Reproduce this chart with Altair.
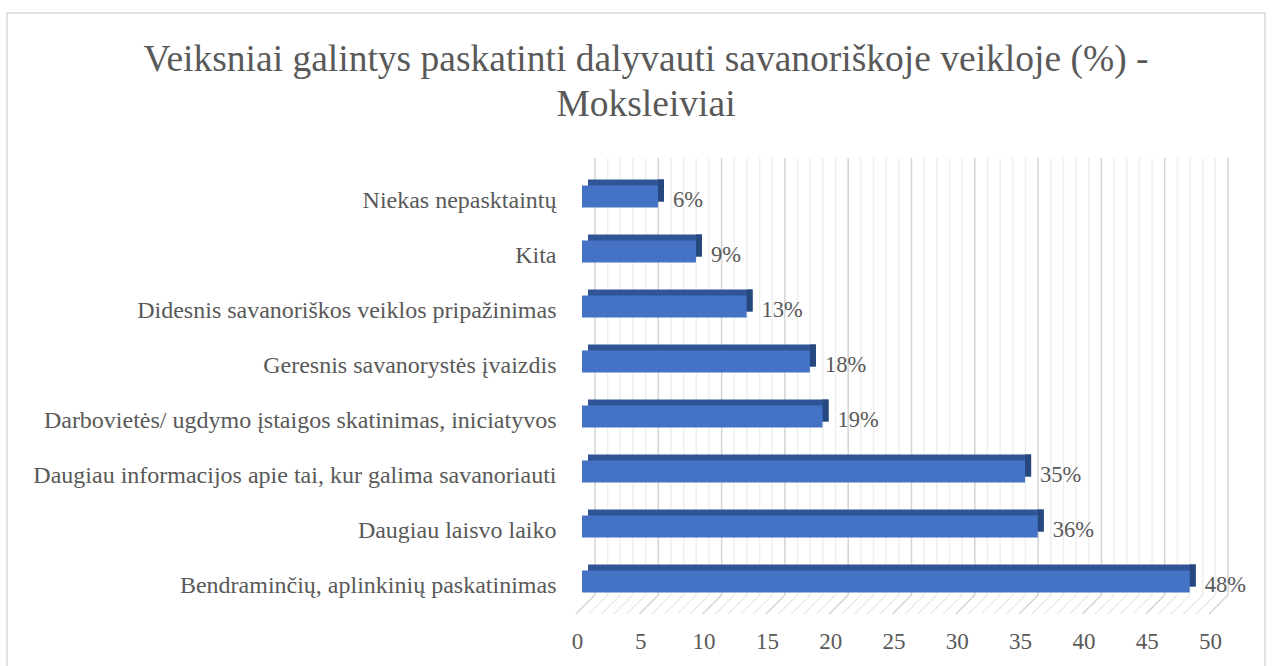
import altair as alt
import pandas as pd

categories = [
    "Niekas nepasktaintų",
    "Kita",
    "Didesnis savanoriškos veiklos pripažinimas",
    "Geresnis savanorystės įvaizdis",
    "Darbovietės/ ugdymo įstaigos skatinimas, iniciatyvos",
    "Daugiau informacijos apie tai, kur galima savanoriauti",
    "Daugiau laisvo laiko",
    "Bendraminčių, aplinkinių paskatinimas",
]
values = [6, 9, 13, 18, 19, 35, 36, 48]
minor_ticks = list(range(0, 51))
major_ticks = list(range(0, 51, 5))

title_lines = ["Veiksniai galintys paskatinti dalyvauti savanoriškoje veikloje (%) -", "Moksleiviai"]

df = pd.DataFrame({"cat": categories, "value": values})
df["label"] = [f"{v}%" for v in values]
minor_df = pd.DataFrame({"v": [t for t in minor_ticks if t % 5 != 0]})
major_df = pd.DataFrame({"v": major_ticks})
one = pd.DataFrame({"a": [0]})

FONT = "Liberation Serif"
TXT = "#595959"
W, H = 633, 440
xs = alt.Scale(domain=[0, 50], nice=False, zero=True)
ys = alt.Scale(domain=categories, paddingInner=0.5, paddingOuter=0.25)

x_axis = alt.Axis(
    values=major_ticks, grid=False, domain=False, ticks=False, title=None,
    labelOffset=-5, labelPadding=21, labelFont=FONT, labelFontSize=23,
    labelColor=TXT, labelFlush=False, labelOverlap=False, zindex=1,
)
y_axis = alt.Axis(
    domain=False, ticks=False, grid=False, labelPadding=26, title=None,
    labelFont=FONT, labelFontSize=24, labelColor=TXT, labelLimit=700,
    labelOffset=4, zindex=1,
)


def X(field):
    return alt.X(field, scale=xs, axis=x_axis, title=None)


def Y(field):
    return alt.Y(field, scale=ys, axis=y_axis, title=None)


border = alt.Chart(one).mark_rect(fill="white", fillOpacity=0, stroke="#D9D9D9", strokeWidth=1.5).encode(
    x=alt.value(-575), x2=alt.value(683), y=alt.value(-156), y2=alt.value(520)
)

grid_minor = alt.Chart(minor_df).mark_rule(color="#EFEFEF", strokeWidth=1.5, xOffset=13).encode(
    x=X("v:Q"), y=alt.value(-11), y2=alt.value(426)
)
grid_major = alt.Chart(major_df).mark_rule(color="#D4D4D4", strokeWidth=1.5, xOffset=13).encode(
    x=X("v:Q"), y=alt.value(-11), y2=alt.value(426)
)
floor_minor = alt.Chart(minor_df).mark_rule(color="#EBEBEB", strokeWidth=1.5, xOffset=13, x2Offset=-6).encode(
    x=X("v:Q"), x2="v:Q", y=alt.value(426), y2=alt.value(445)
)
floor_major = alt.Chart(major_df).mark_rule(color="#D4D4D4", strokeWidth=1.5, xOffset=13, x2Offset=-6).encode(
    x=X("v:Q"), x2="v:Q", y=alt.value(426), y2=alt.value(445)
)

back = alt.Chart(df).mark_bar(size=22, color="#2F5597", xOffset=6, x2Offset=6, yOffset=-6, y2Offset=-6).encode(
    x=X("value:Q"), y=Y("cat:N"),
)
side = alt.Chart(df).mark_bar(size=22, color="#27487F", x2Offset=6, yOffset=-6, y2Offset=-6).encode(
    x=X("value:Q"), x2="value:Q", y=Y("cat:N"),
)
front = alt.Chart(df).mark_bar(size=22, color="#4472C4").encode(
    x=X("value:Q"), y=Y("cat:N"),
)
labels = alt.Chart(df).mark_text(
    align="left", baseline="middle", dx=15, dy=3, font=FONT, fontSize=22.5, color=TXT
).encode(
    x=X("value:Q"), y=Y("cat:N"), text="label:N",
)

chart = alt.layer(
    border, grid_minor, grid_major, floor_minor, floor_major, back, side, front, labels
).properties(
    width=W,
    height=H,
    autosize=alt.AutoSizeParams(type="none"),
    padding={"left": 582, "top": 169, "right": 1272 - 582 - W, "bottom": 666 - 169 - H},
    title=alt.TitleParams(
        text=title_lines, font=FONT, fontSize=37.5, fontWeight="normal", color=TXT,
        anchor="middle", frame="bounds", offset=-111, dx=10, lineHeight=45,
    ),
).configure_view(stroke=None)

chart.save("out.html", embed_options={"renderer": "svg", "actions": False})
